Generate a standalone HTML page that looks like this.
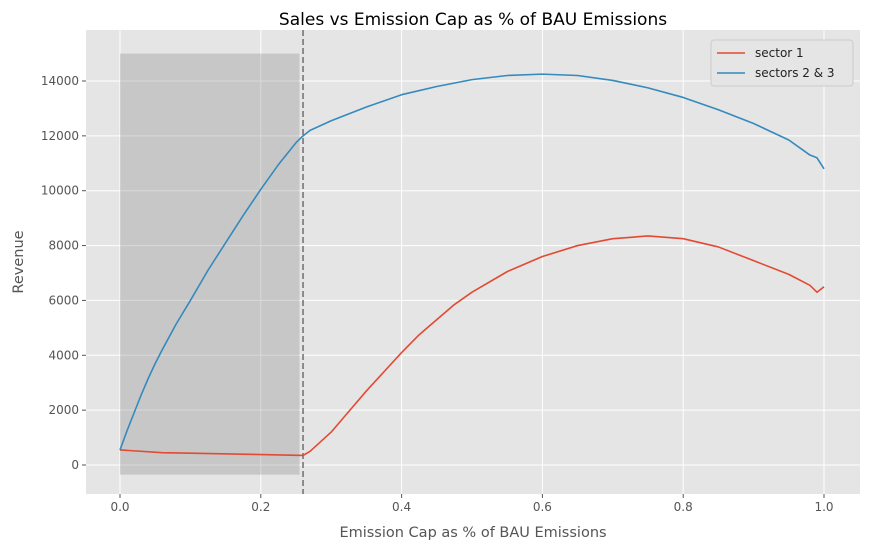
<!DOCTYPE html>
<html><head><meta charset="utf-8"><style>
body{margin:0;background:#fff;font-family:"Liberation Sans","DejaVu Sans",sans-serif}
svg text{font-family:"DejaVu Sans","Liberation Sans",sans-serif}
</style></head><body>
<svg id="c" width="869" height="549"></svg>
<script>
const xs=[0,0.01,0.02,0.03,0.04,0.05,0.06,0.08,0.1,0.125,0.15,0.175,0.2,0.225,0.25,0.26,0.27,0.3,0.35,0.4,0.45,0.5,0.55,0.6,0.65,0.7,0.75,0.8,0.85,0.9,0.95,0.98,0.99,1.0];
const blue=[550,1250,1900,2550,3150,3700,4200,5150,6000,7100,8100,9100,10050,10950,11750,12000,12200,12550,13050,13500,13800,14050,14200,14250,14200,14020,13750,13400,12950,12450,11850,11300,11200,10800];
const xr=[0,0.06,0.1,0.2,0.26,0.27,0.3,0.325,0.35,0.375,0.4,0.425,0.45,0.475,0.5,0.55,0.6,0.65,0.7,0.75,0.8,0.85,0.9,0.95,0.98,0.99,1.0];
const red=[550,450,430,380,350,500,1200,1950,2700,3400,4100,4750,5300,5850,6300,7050,7600,8000,8250,8350,8250,7950,7450,6950,6550,6300,6500];
const xTicks=[0,0.2,0.4,0.6,0.8,1.0];const xLabels=["0.0","0.2","0.4","0.6","0.8","1.0"];
const yTicks=[0,2000,4000,6000,8000,10000,12000,14000];
const cap=0.26, shadeX=[0,0.255], shadeY=[-350,15000];
const NS="http://www.w3.org/2000/svg",svg=document.getElementById('c');
const L=86,R=860,T=30,B=494;
const X=v=>120+v*704, Y=v=>465-v*0.027429;
function mk(t,a,p){const e=document.createElementNS(NS,t);for(const k in a)e.setAttribute(k,a[k]);(p||svg).appendChild(e);return e;}
let e=mk('rect',{x:L,y:T,width:R-L,height:B-T,fill:'#E5E5E5'});

xTicks.forEach((t,i)=>{mk('line',{x1:X(t),x2:X(t),y1:T,y2:B,stroke:'#fff','stroke-width':1});
mk('line',{x1:X(t),x2:X(t),y1:B,y2:B+4,stroke:'#555'});
const tx=mk('text',{x:X(t),y:B+17,'text-anchor':'middle','font-size':12,fill:'#555'});tx.textContent=xLabels[i];
});
yTicks.forEach(t=>{mk('line',{x1:L,x2:R,y1:Y(t),y2:Y(t),stroke:'#fff','stroke-width':1});
mk('line',{x1:L-4,x2:L,y1:Y(t),y2:Y(t),stroke:'#555'});
const tx=mk('text',{x:L-7,y:Y(t)+4,'text-anchor':'end','font-size':12,fill:'#555'});tx.textContent=t;
});
e=mk('rect',{x:X(shadeX[0]),y:Y(shadeY[1]),width:X(shadeX[1])-X(shadeX[0]),height:Y(shadeY[0])-Y(shadeY[1]),fill:'#808080','fill-opacity':0.3});

e=mk('line',{x1:X(cap),x2:X(cap),y1:T,y2:B,stroke:'#777','stroke-width':1.6,'stroke-dasharray':'6,3'});

function line(xv,yv,c,n){const p=mk('polyline',{points:xv.map((x,i)=>X(x)+','+Y(yv[i])).join(' '),fill:'none',stroke:c,'stroke-width':1.6,'stroke-linejoin':'round'});
}
line(xr,red,'#E24A33','sector-1-line');line(xs,blue,'#348ABD','sectors-2-3-line');
e=mk('text',{x:473,y:25,'text-anchor':'middle','font-size':17,fill:'#000'});e.textContent='Sales vs Emission Cap as % of BAU Emissions';

e=mk('text',{x:473,y:537,'text-anchor':'middle','font-size':14.5,fill:'#555'});e.textContent='Emission Cap as % of BAU Emissions';

e=mk('text',{x:23,y:262,'text-anchor':'middle','font-size':14.5,fill:'#555',transform:'rotate(-90 23 262)'});e.textContent='Revenue';

const lg=mk('g',{});
mk('rect',{x:711,y:40,width:142,height:46,fill:'#E5E5E5',stroke:'#ccc',rx:3},lg);
[['sector 1','#E24A33'],['sectors 2 & 3','#348ABD']].forEach((d,i)=>{const y=53+i*20;
mk('line',{x1:717,x2:745,y1:y,y2:y,stroke:d[1],'stroke-width':1.6},lg);
const t=mk('text',{x:755,y:y+4,'font-size':12,fill:'#222'},lg);t.textContent=d[0];
});
</script></body></html>
